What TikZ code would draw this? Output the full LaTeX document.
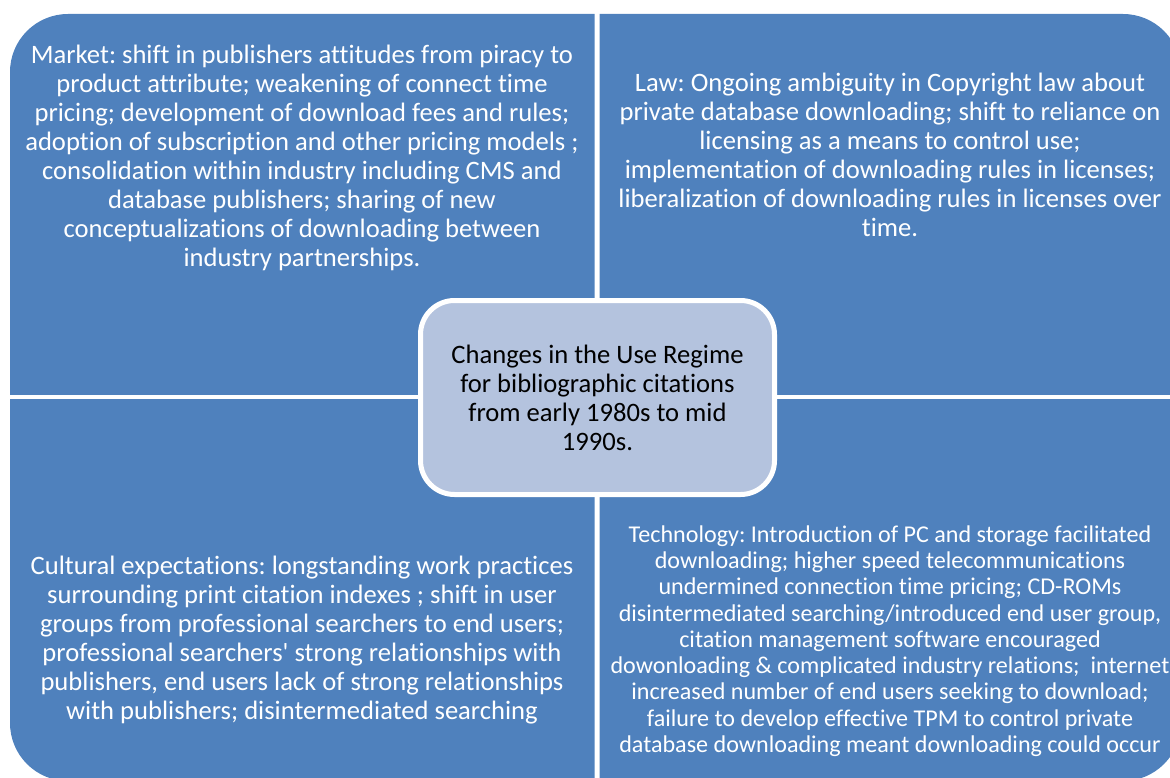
\documentclass[tikz,border=0pt]{standalone}
\usepackage{fontspec}
\setmainfont[Ligatures={NoCommon}]{Carlito}
\frenchspacing
\definecolor{quadblue}{HTML}{4F81BD}
\definecolor{hubfill}{HTML}{B4C3DE}
\begin{document}
\begin{tikzpicture}[x=1pt,y=-1pt,
  quadtext/.style={text=white,align=center,inner sep=0pt,font=\fontsize{26.6}{29}\selectfont},
  techtext/.style={text=white,align=center,inner sep=0pt,font=\fontsize{24.1}{26.25}\selectfont},
  hubbox/.style={draw=white,line width=5pt,fill=hubfill,rounded corners=34pt,
    minimum width=354pt,minimum height=194pt,align=center,inner sep=0pt,
    font=\fontsize{26.6}{29}\selectfont,text=black}]
\useasboundingbox (0,0) rectangle (1170,778);
\clip (0,0) rectangle (1170,778);

% outline of the whole matrix, shared by the four quadrants
\def\matrixoutline{(10,14) rectangle (1181,781)}

% four quadrants, each keeping only its outer corner rounded
\begin{scope}
  \clip (0,0) rectangle (594.5,394.5);
  \fill[quadblue,rounded corners=58pt] \matrixoutline;
\end{scope}
\begin{scope}
  \clip (599.5,0) rectangle (1200,394.5);
  \fill[quadblue,rounded corners=58pt] \matrixoutline;
\end{scope}
\begin{scope}
  \clip (0,399.5) rectangle (594.5,800);
  \fill[quadblue,rounded corners=58pt] \matrixoutline;
\end{scope}
\begin{scope}
  \clip (599.5,399.5) rectangle (1200,800);
  \fill[quadblue,rounded corners=58pt] \matrixoutline;
\end{scope}

% quadrant texts
\node[quadtext] (market) at (302,158) {Market: shift in publishers attitudes from piracy to\\
product attribute; weakening of connect time\\
pricing; development of download fees and rules;\\
adoption of subscription and other pricing models ;\\
consolidation within industry including CMS and\\
database publishers; sharing of new\\
conceptualizations of downloading between\\
industry partnerships.};

\node[quadtext] (law) at (890,155) {Law: Ongoing ambiguity in Copyright law about\\
private database downloading; shift to reliance on\\
licensing as a means to control use;\\
implementation of downloading rules in licenses;\\
liberalization of downloading rules in licenses over\\
time.};

\node[quadtext] (culture) at (302,640) {Cultural expectations: longstanding work practices\\
surrounding print citation indexes ; shift in user\\
groups from professional searchers to end users;\\
professional searchers\textquotesingle{} strong relationships with\\
publishers, end users lack of strong relationships\\
with publishers; disintermediated searching};

\node[techtext] (tech) at (890,641) {Technology: Introduction of PC and storage facilitated\\
downloading; higher speed telecommunications\\
undermined connection time pricing; CD-ROMs\\
disintermediated searching/introduced end user group,\\
citation management software encouraged\\
dowonloading \& complicated industry relations;~ internet\\
increased number of end users seeking to download;\\
failure to develop effective TPM to control private\\
database downloading meant downloading could occur};

% central box
\node[hubbox] (hub) at (597.5,397.5) {Changes in the Use Regime\\
for bibliographic citations\\
from early 1980s to mid\\
1990s.};
\end{tikzpicture}
\end{document}
